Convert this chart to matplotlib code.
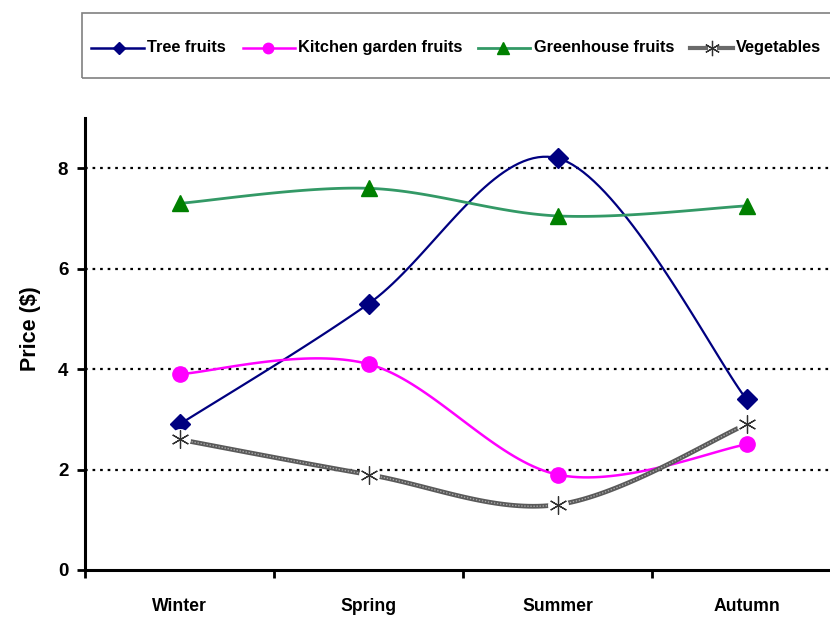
import numpy as np
import matplotlib.pyplot as plt
from matplotlib.lines import Line2D
from matplotlib.patches import Rectangle

font = 'Liberation Sans'

seasons = ["Winter", "Spring", "Summer", "Autumn"]
tree_fruits = [2.9, 5.3, 8.2, 3.4]
kitchen_fruits = [3.9, 4.1, 1.9, 2.5]
greenhouse_fruits = [7.3, 7.6, 7.05, 7.25]
vegetables = [2.6, 1.9, 1.3, 2.9]
y_ticks = [0, 2, 4, 6, 8]
labels = ["Tree fruits", "Kitchen garden fruits", "Greenhouse fruits", "Vegetables"]

W, H = 830, 619


def smooth(ys, n=40):
    # bezier smoothing through the points, the way the spreadsheet does it
    pts = np.column_stack([np.arange(len(ys)), ys]).astype(float)
    p = np.vstack([pts[0], pts, pts[-1]])
    out = []
    for i in range(1, len(p) - 2):
        p0, p1, p2, p3 = p[i - 1], p[i], p[i + 1], p[i + 2]
        c1 = p1 + (p2 - p0) / 6.0
        c2 = p2 - (p3 - p1) / 6.0
        t = np.linspace(0, 1, n)[:, None]
        seg = ((1 - t) ** 3) * p1 + 3 * ((1 - t) ** 2) * t * c1 + 3 * (1 - t) * t ** 2 * c2 + t ** 3 * p2
        out.append(seg)
    out = np.vstack(out)
    return out[:, 0], out[:, 1]


fig = plt.figure(figsize=(8.3, 6.19), dpi=100)
ax = fig.add_axes([85 / W, 1 - 570 / H, 756 / W, 452 / H])
x = np.arange(len(seasons))

#TREE FRUITS
sx, sy = smooth(tree_fruits)
ax.plot(sx, sy, color='#000080', lw=1.6, zorder=3)
ax.plot(x, tree_fruits, 'D', color='#000080', ms=10, zorder=3)

#KITCHEN GARDEN FRUITS
sx, sy = smooth(kitchen_fruits)
ax.plot(sx, sy, color='#ff00ff', lw=1.8, zorder=3)
ax.plot(x, kitchen_fruits, 'o', color='#ff00ff', ms=11, zorder=3)

#GREENHOUSE FRUITS
sx, sy = smooth(greenhouse_fruits)
ax.plot(sx, sy, color='#339966', lw=2.0, zorder=3)
ax.plot(x, greenhouse_fruits, '^', color='#008000', ms=12, zorder=3)

#VEGETABLES
sx, sy = smooth(vegetables)
ax.plot(sx, sy, color='#5a5a5a', lw=3.4, zorder=4)
ax.plot(sx, sy, color='#a8a8a8', lw=1.0, ls=(0, (1, 1.2)), zorder=4)
ax.plot(x, vegetables, 'o', color='white', ms=14, zorder=4)
ax.plot(x, vegetables, marker=(6, 2, 0), ls='none', color='#303030', mew=0.9, ms=13, zorder=5)

ax.set_xlim(-0.5, 3.5)
ax.set_ylim(0, 9)
ax.set_yticks(y_ticks)
ax.set_xticks(x)
ax.set_xticklabels(seasons)
ax.set_xticks([-0.5, 0.5, 1.5, 2.5], minor=True)
ax.tick_params(axis='x', which='major', length=0, pad=20)
ax.tick_params(axis='x', which='minor', length=6, width=2, direction='out')
ax.tick_params(axis='y', length=6, width=2, direction='out', pad=6)
for lab in ax.get_xticklabels():
    lab.set_fontfamily(font)
    lab.set_fontweight('bold')
    lab.set_fontsize(12.7)
for lab in ax.get_yticklabels():
    lab.set_fontfamily(font)
    lab.set_fontweight('bold')
    lab.set_fontsize(13.5)

for s in ['top', 'right']:
    ax.spines[s].set_visible(False)
for s in ['left', 'bottom']:
    ax.spines[s].set_linewidth(2.2)

for v in y_ticks[1:]:
    ax.axhline(v, color='black', lw=1.6, ls=(0, (1.2, 2.2)), zorder=1)

ax.set_ylabel("Price ($)", fontsize=15.5, fontweight='bold', family=font)
ax.yaxis.set_label_coords(-44 / 756, (570 - 329) / 452)

#LEGEND (drawn by hand so the row lines up like the original)
fig.patches.append(Rectangle((82 / W, 1 - 78 / H), 760 / W, 65 / H,
                             transform=fig.transFigure, fill=False,
                             edgecolor='#808080', lw=1.2))
leg_y = 1 - 48 / H
text_y = 1 - 52 / H
# (line start, marker, line end, text start) in pixels
slots = [(91, 119, 144, 147), (243, 268, 295, 298), (478, 503, 530, 534), (690, 712, 733, 736)]
line_styles = [
    dict(color='#000080', lw=1.8),
    dict(color='#ff00ff', lw=1.8),
    dict(color='#339966', lw=2.0),
]
marker_styles = [
    dict(marker='D', ms=6.5, color='#000080'),
    dict(marker='o', ms=7.5, color='#ff00ff'),
    dict(marker='^', ms=9, color='#008000'),
]
for i, ((x0, xm, x1, xt), lab) in enumerate(zip(slots, labels)):
    if i < 3:
        fig.add_artist(Line2D([x0 / W, x1 / W], [leg_y, leg_y], transform=fig.transFigure,
                              **line_styles[i]))
        fig.add_artist(Line2D([xm / W], [leg_y], transform=fig.transFigure, ls='none',
                              **marker_styles[i]))
    else:
        for a, b in [(x0, xm - 6), (xm + 7, x1)]:
            fig.add_artist(Line2D([a / W, b / W], [leg_y, leg_y], transform=fig.transFigure,
                                  color='#6a6a6a', lw=3))
        fig.add_artist(Line2D([xm / W], [leg_y], transform=fig.transFigure, ls='none',
                              marker=(6, 2, 0), ms=11, color='#303030', mew=0.9))
    fig.text(xt / W, text_y, lab, family=font, weight='bold', fontsize=11.8,
             ha='left', va='baseline')

plt.savefig('out.png', dpi=100)
